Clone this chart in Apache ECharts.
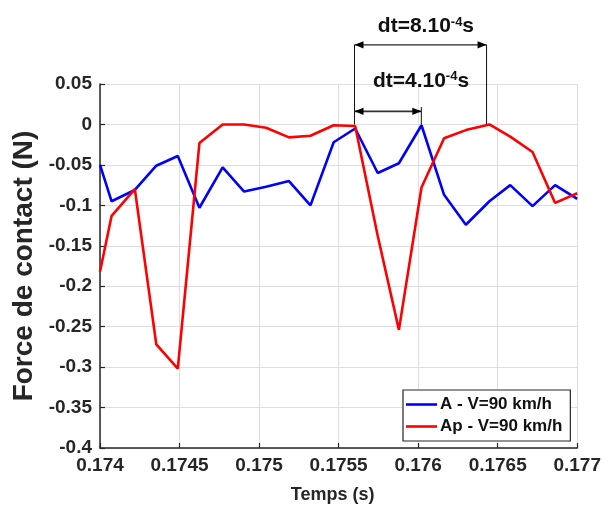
<!DOCTYPE html>
<html>
<head>
<meta charset="utf-8">
<script src="https://cdn.jsdelivr.net/npm/echarts@6/dist/echarts.min.js"></script>
<style>
html,body{margin:0;padding:0;background:#fff;}
#chart{width:604px;height:509px;}
</style>
</head>
<body>
<div id="chart"></div>
<script>
// ---- data ----
const times = [0.174, 0.174073, 0.174219, 0.174354, 0.174489, 0.174625, 0.174771, 0.174906,
  0.175044, 0.175188, 0.175323, 0.175469, 0.175604, 0.175746, 0.175879, 0.176021,
  0.176163, 0.1763, 0.176448, 0.176579, 0.176719, 0.176861, 0.177];
const seriesA = [-0.05, -0.095, -0.081, -0.051, -0.039, -0.103, -0.053, -0.083,
  -0.077, -0.070, -0.100, -0.022, -0.005, -0.060, -0.048, -0.001,
  -0.087, -0.124, -0.095, -0.075, -0.101, -0.075, -0.092];
const seriesAp = [-0.182, -0.113, -0.080, -0.272, -0.302, -0.023, 0.0, 0.0,
  -0.004, -0.016, -0.014, -0.001, -0.002, -0.138, -0.254, -0.078,
  -0.017, -0.007, 0.0, -0.015, -0.034, -0.097, -0.085];
const seriesNames = ['A - V=90 km/h', 'Ap - V=90 km/h'];
const xTicks = {min: 0.174, max: 0.177, interval: 0.0005};
const yTicks = {min: -0.4, max: 0.05, interval: 0.05};
// annotation anchors (time, force)
const annT = {left: 0.1756, mid: 0.17602, right: 0.17643};
const annV = {arrow8: 0.0984, text8: 0.121, arrow4: 0.0162, text4: 0.054, top4: 0.0216, base: 0};
const annTextT = {t8: 0.176049, t4: 0.176018};
const annLabels = {t8: ['dt=8.10', '-4', 's'], t4: ['dt=4.10', '-4', 's']};

const FONT = "'Liberation Sans', Arial, sans-serif";
const TXT = '#262626';

const chart = echarts.init(document.getElementById('chart'), null, {renderer: 'canvas'});
const pair = (xs, ys) => xs.map((x, i) => [x, ys[i]]);

chart.setOption({
  animation: false,
  backgroundColor: '#fff',
  textStyle: {fontFamily: FONT},
  grid: {left: 100, right: 24, top: 84, bottom: 56, containLabel: false},
  xAxis: {
    type: 'value', min: xTicks.min, max: xTicks.max, interval: xTicks.interval,
    name: 'Temps (s)', nameLocation: 'middle', nameGap: 38,
    nameTextStyle: {fontFamily: FONT, fontSize: 18, fontWeight: 'bold', color: TXT, padding: [0, 12, 0, 0]},
    axisLine: {show: true, onZero: false, lineStyle: {color: TXT, width: 1.5}},
    axisTick: {show: true, inside: true, length: 5, lineStyle: {color: TXT, width: 1.2}},
    axisLabel: {fontFamily: FONT, fontSize: 19, fontWeight: 'bold', color: TXT, margin: 8,
      formatter: v => String(+v.toFixed(4))},
    splitLine: {show: true, lineStyle: {color: '#dedede', width: 1}}
  },
  yAxis: {
    type: 'value', min: yTicks.min, max: yTicks.max, interval: yTicks.interval,
    name: 'Force de contact (N)', nameLocation: 'middle', nameGap: 47,
    nameTextStyle: {fontFamily: FONT, fontSize: 28, fontWeight: 'bold', color: TXT},
    axisLine: {show: true, onZero: false, lineStyle: {color: TXT, width: 1.5}},
    axisTick: {show: true, inside: true, length: 5, lineStyle: {color: TXT, width: 1.2}},
    axisLabel: {fontFamily: FONT, fontSize: 19, fontWeight: 'bold', color: TXT, margin: 8,
      formatter: v => String(+v.toFixed(2))},
    splitLine: {show: true, lineStyle: {color: '#dedede', width: 1}}
  },
  legend: {
    orient: 'vertical', left: 403, top: 390,
    backgroundColor: '#fff', borderColor: TXT, borderWidth: 1.2, borderRadius: 0,
    padding: [6, 8, 6, 3], itemGap: 5, itemWidth: 31, itemHeight: 2.6, icon: 'rect',
    textStyle: {fontFamily: FONT, fontSize: 17, fontWeight: 'bold', color: '#111', padding: [0, 0, 0, -2]},
    data: seriesNames
  },
  series: [
    {name: seriesNames[0], type: 'line', data: pair(times, seriesA), symbol: 'none',
      color: '#0000ff', lineStyle: {color: '#0000ff', width: 2.6}, z: 3},
    {name: seriesNames[1], type: 'line', data: pair(times, seriesAp), symbol: 'none',
      color: '#ff0000', lineStyle: {color: '#ff0000', width: 2.6}, z: 4}
  ]
});

// ---- annotations placed through the axes ----
const P = (t, v) => chart.convertToPixel({gridIndex: 0}, [t, v]);
const lineEl = (a, b, w, c) => ({type: 'line', shape: {x1: a[0], y1: a[1], x2: b[0], y2: b[1]},
  style: {stroke: c, lineWidth: w}, z: 100});
const arrowHeads = (a, b) => {
  const L = 9, H = 3.6;
  return [
    {type: 'polygon', shape: {points: [[a[0], a[1]], [a[0] + L, a[1] - H], [a[0] + L, a[1] + H]]}, style: {fill: '#000'}, z: 101},
    {type: 'polygon', shape: {points: [[b[0], b[1]], [b[0] - L, b[1] - H], [b[0] - L, b[1] + H]]}, style: {fill: '#000'}, z: 101}
  ];
};
const richText = (pos, parts) => ({
  type: 'text', z: 102, x: pos[0], y: pos[1],
  style: {
    text: '{a|' + parts[0] + '}{b|' + parts[1] + '}{a|' + parts[2] + '}',
    align: 'center', verticalAlign: 'middle',
    rich: {
      a: {fontFamily: FONT, fontSize: 21, fontWeight: 'bold', fill: '#111', lineHeight: 22},
      b: {fontFamily: FONT, fontSize: 13, fontWeight: 'bold', fill: '#111', lineHeight: 12, verticalAlign: 'top'}
    }
  }
});

const lTop = P(annT.left, annV.arrow8), lBot = P(annT.left, annV.base);
const rTop = P(annT.right, annV.arrow8), rBot = P(annT.right, annV.base);
const mTop = P(annT.mid, annV.top4), mBot = P(annT.mid, annV.base);
const a4L = P(annT.left, annV.arrow4), a4R = P(annT.mid, annV.arrow4);

const g = [
  lineEl(lTop, lBot, 1, '#111'),
  lineEl(rTop, rBot, 1, '#111'),
  lineEl(mTop, mBot, 1, '#111'),
  lineEl(lTop, rTop, 1.4, '#222'),
  lineEl(a4L, a4R, 1.6, '#333'),
  ...arrowHeads(lTop, rTop),
  ...arrowHeads(a4L, a4R),
  richText(P(annTextT.t8, annV.text8), annLabels.t8),
  richText(P(annTextT.t4, annV.text4), annLabels.t4)
];
chart.setOption({graphic: g});
</script>
</body>
</html>
